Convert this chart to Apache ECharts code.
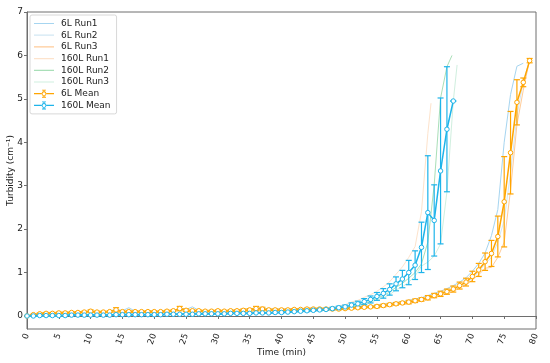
<!DOCTYPE html>
<html><head><meta charset="utf-8">
<script src="https://cdn.jsdelivr.net/npm/echarts@6/dist/echarts.min.js"></script>
<style>html,body{margin:0;padding:0;background:#fff}#c{width:550px;height:363px}</style>
</head><body><div id="c"></div>
<script>
// ---- data (time in minutes, turbidity in cm^-1) ----
const time6 = Array.from({length: 80}, (_, i) => i);
const time160 = Array.from({length: 68}, (_, i) => i);
const mean6L = [
 0.00,0.03,0.05,0.06,0.06,0.07,0.07,0.08,0.08,0.09,
 0.11,0.09,0.09,0.10,0.14,0.10,0.10,0.10,0.10,0.10,
 0.10,0.10,0.11,0.12,0.17,0.13,0.12,0.12,0.11,0.11,
 0.12,0.11,0.12,0.12,0.13,0.14,0.17,0.16,0.14,0.14,
 0.14,0.14,0.15,0.15,0.16,0.16,0.16,0.16,0.16,0.16,
 0.17,0.18,0.19,0.20,0.21,0.22,0.24,0.26,0.28,0.30,
 0.32,0.35,0.38,0.42,0.47,0.51,0.56,0.62,0.70,0.78,
 0.91,1.06,1.25,1.44,1.83,2.63,3.76,4.92,5.38,5.88];
const std6L = [
 0,0.01,0.02,0.02,0.02,0.02,0.02,0.02,0.02,0.02,
 0.03,0.02,0.02,0.02,0.05,0.02,0.02,0.02,0.02,0.02,
 0.02,0.02,0.02,0.02,0.05,0.03,0.02,0.02,0.02,0.02,
 0.02,0.02,0.02,0.02,0.03,0.03,0.05,0.04,0.02,0.02,
 0.02,0.02,0.02,0.02,0.02,0.02,0.02,0.02,0.02,0.02,
 0.02,0.02,0.02,0.02,0.02,0.03,0.03,0.03,0.03,0.03,
 0.04,0.04,0.04,0.05,0.05,0.06,0.06,0.07,0.08,0.09,
 0.12,0.15,0.20,0.30,0.47,1.04,0.95,0.52,0.10,0.05];
const mean160L = [
 0.00,0.00,0.01,0.01,0.01,0.01,0.01,0.02,0.02,0.02,
 0.02,0.02,0.02,0.02,0.03,0.03,0.03,0.03,0.03,0.03,
 0.03,0.03,0.04,0.04,0.04,0.04,0.04,0.05,0.05,0.05,
 0.05,0.05,0.06,0.06,0.06,0.06,0.07,0.07,0.07,0.08,
 0.08,0.09,0.10,0.11,0.12,0.13,0.14,0.15,0.17,0.19,
 0.21,0.25,0.28,0.33,0.38,0.45,0.52,0.61,0.74,0.85,
 1.00,1.17,1.58,2.38,2.20,3.34,4.30,4.95];
const std160L = [
 0,0.005,0.005,0.005,0.005,0.005,0.005,0.01,0.01,0.01,
 0.01,0.01,0.01,0.01,0.01,0.01,0.01,0.01,0.01,0.01,
 0.01,0.01,0.01,0.01,0.01,0.01,0.01,0.01,0.01,0.01,
 0.01,0.01,0.01,0.01,0.01,0.01,0.01,0.01,0.01,0.01,
 0.01,0.01,0.01,0.01,0.02,0.02,0.02,0.02,0.03,0.035,
 0.04,0.05,0.06,0.07,0.08,0.09,0.11,0.13,0.16,0.20,
 0.28,0.33,0.58,1.31,0.82,1.68,1.44,0];
const run6L1 = [
 0,0.04,0.06,0.07,0.07,0.08,0.08,0.09,0.09,0.10,
 0.12,0.10,0.10,0.11,0.16,0.12,0.19,0.11,0.11,0.11,
 0.11,0.11,0.12,0.13,0.18,0.15,0.21,0.13,0.12,0.12,
 0.13,0.12,0.13,0.14,0.15,0.16,0.19,0.18,0.16,0.16,
 0.16,0.16,0.17,0.17,0.18,0.18,0.18,0.18,0.18,0.18,
 0.19,0.20,0.21,0.22,0.23,0.25,0.27,0.29,0.31,0.33,
 0.36,0.39,0.42,0.47,0.52,0.57,0.63,0.70,0.78,0.88,
 1.03,1.21,1.45,1.85,2.45,4.00,5.10,5.75,5.82];
const run6L2 = [
 0,0.02,0.04,0.05,0.05,0.06,0.06,0.07,0.07,0.08,
 0.10,0.08,0.08,0.09,0.13,0.09,0.06,0.09,0.09,0.09,
 0.09,0.09,0.10,0.11,0.16,0.12,0.08,0.11,0.10,0.10,
 0.11,0.10,0.11,0.11,0.12,0.13,0.16,0.15,0.13,0.13,
 0.13,0.13,0.14,0.14,0.15,0.15,0.15,0.15,0.15,0.15,
 0.16,0.17,0.18,0.19,0.20,0.21,0.23,0.25,0.27,0.29,
 0.31,0.34,0.37,0.40,0.45,0.49,0.54,0.60,0.67,0.75,
 0.87,1.02,1.20,1.35,1.70,2.20,3.30,4.60,5.40,5.88];
const run6L3 = [
 0,0.03,0.05,0.06,0.06,0.07,0.07,0.08,0.08,0.09,
 0.11,0.09,0.09,0.10,0.13,0.09,0.05,0.10,0.10,0.10,
 0.10,0.10,0.11,0.12,0.17,0.12,0.07,0.12,0.11,0.11,
 0.12,0.11,0.12,0.11,0.12,0.13,0.16,0.15,0.13,0.13,
 0.13,0.13,0.14,0.14,0.15,0.15,0.15,0.15,0.15,0.15,
 0.16,0.17,0.18,0.19,0.20,0.20,0.22,0.24,0.26,0.28,
 0.29,0.32,0.35,0.39,0.44,0.47,0.51,0.56,0.65,0.71,
 0.83,0.95,1.10,1.12,1.35,1.70,2.90,4.40,5.20,5.90];
const run160L1 = [
 0,0.01,0.01,0.02,0.02,0.02,0.02,0.03,0.03,0.03,
 0.03,0.03,0.03,0.03,0.04,0.04,0.04,0.04,0.04,0.04,
 0.04,0.04,0.05,0.05,0.05,0.05,0.05,0.06,0.06,0.06,
 0.06,0.06,0.07,0.07,0.07,0.07,0.08,0.08,0.08,0.09,
 0.09,0.10,0.11,0.12,0.13,0.15,0.16,0.17,0.20,0.23,
 0.26,0.32,0.36,0.43,0.49,0.57,0.67,0.79,0.96,1.13,
 1.35,1.60,2.40,4.20];
const run160L1EndT = 63.5, run160L1End = 4.9;
const run160L2 = [
 0,0.00,0.01,0.01,0.01,0.01,0.01,0.02,0.02,0.02,
 0.02,0.02,0.02,0.02,0.03,0.03,0.03,0.03,0.03,0.03,
 0.03,0.03,0.04,0.04,0.04,0.04,0.04,0.05,0.05,0.05,
 0.05,0.05,0.06,0.06,0.06,0.06,0.07,0.07,0.07,0.08,
 0.08,0.09,0.10,0.11,0.12,0.13,0.14,0.15,0.16,0.18,
 0.19,0.22,0.25,0.29,0.34,0.41,0.47,0.55,0.66,0.75,
 0.87,1.00,1.20,1.70,3.02,5.02,5.74];
const run160L2EndT = 66.8, run160L2End = 6.0;
const run160L3 = [
 0,0.00,0.00,0.00,0.00,0.00,0.01,0.01,0.01,0.01,
 0.01,0.01,0.01,0.01,0.02,0.02,0.02,0.02,0.02,0.02,
 0.02,0.02,0.03,0.03,0.03,0.03,0.03,0.04,0.04,0.04,
 0.04,0.04,0.05,0.05,0.05,0.05,0.06,0.06,0.06,0.07,
 0.07,0.08,0.09,0.10,0.11,0.12,0.13,0.14,0.15,0.17,
 0.18,0.21,0.23,0.27,0.31,0.37,0.42,0.49,0.60,0.67,
 0.78,0.92,1.15,1.24,1.38,1.66,2.86,4.95];
const run160L3EndT = 67.6, run160L3End = 5.78;
const yTicks = [0,1,2,3,4,5,6,7];

// ---- build ----
function pairs(t, v) { return v.map((y, i) => [t[i], y]); }
function withEnd(t, v, et, ev) { const p = pairs(t, v); p.push([et, ev]); return p; }
function errData(t, m, s) { return m.map((y, i) => [t[i], y - s[i], y + s[i]]); }

const C6 = '#ffa500', C160 = '#1eb4ea';
const lineIcon = 'path://M0,3.4L20,3.4L20,4.6L0,4.6ZM0,0L0.01,0L0.01,8L0,8Z';
const errIcon = 'path://M0,3.4L7.6,3.4L7.6,4.6L0,4.6Z' +
  'M12.4,3.4L20,3.4L20,4.6L12.4,4.6Z' +
  'M9.4,0L10.6,0L10.6,1.8L9.4,1.8Z' +
  'M9.4,6.2L10.6,6.2L10.6,8L9.4,8Z' +
  'M8,0L12,0L12,0.9L8,0.9Z' +
  'M8,7.1L12,7.1L12,8L8,8Z' +
  'M12.4,4A2.4,2.4 0 1,1 7.6,4A2.4,2.4 0 1,1 12.4,4Z' +
  'M11.5,4A1.5,1.5 0 1,0 8.5,4A1.5,1.5 0 1,0 11.5,4Z';
const runStyle = (name, color, data) => ({
  name, type: 'line', data, symbol: 'none', z: 1,
  lineStyle: { color, width: 1 }, itemStyle: { color },
  animation: false
});
function errSeries(name, color, data) {
  return {
    name, type: 'custom', z: 3, animation: false, data,
    renderItem: function (params, api) {
      const x = api.value(0);
      const p1 = api.coord([x, api.value(1)]);
      const p2 = api.coord([x, api.value(2)]);
      const w = 3;
      const st = { stroke: color, lineWidth: 1.2 };
      return { type: 'group', children: [
        { type: 'line', shape: { x1: p1[0], y1: p1[1], x2: p2[0], y2: p2[1] }, style: st },
        { type: 'line', shape: { x1: p1[0]-w, y1: p1[1], x2: p1[0]+w, y2: p1[1] }, style: st },
        { type: 'line', shape: { x1: p2[0]-w, y1: p2[1], x2: p2[0]+w, y2: p2[1] }, style: st }
      ]};
    }
  };
}
const font = 'DejaVu Sans';
const chart = echarts.init(document.getElementById('c'), null, { renderer: 'canvas' });
chart.setOption({
  backgroundColor: '#fff',
  animation: false,
  textStyle: { fontFamily: font },
  grid: { left: 27, right: 14, top: 12, bottom: 34, containLabel: false, outerBoundsMode: 'none',
          show: true, borderColor: '#6e6e6e', borderWidth: 1 },
  legend: {
    orient: 'vertical', left: 30, top: 15,
    itemWidth: 20, itemHeight: 8, itemGap: 2.7,
    padding: [4, 6, 4, 4],
    borderColor: '#d8d8d8', borderWidth: 1, borderRadius: 2, backgroundColor: 'rgba(255,255,255,0.85)',
    textStyle: { fontFamily: font, fontSize: 9, color: '#222', padding: [0,0,0,2] },
    data: [
      { name: '6L Run1', icon: lineIcon }, { name: '6L Run2', icon: lineIcon },
      { name: '6L Run3', icon: lineIcon }, { name: '160L Run1', icon: lineIcon },
      { name: '160L Run2', icon: lineIcon }, { name: '160L Run3', icon: lineIcon },
      { name: '6L Mean', icon: errIcon, itemStyle: { color: C6, borderWidth: 0 } },
      { name: '160L Mean', icon: errIcon, itemStyle: { color: C160, borderWidth: 0 } }]
  },
  xAxis: {
    type: 'value', min: 0, max: 80, interval: 5,
    name: 'Time (min)', nameLocation: 'middle', nameGap: 19, nameMoveOverlap: false,
    nameTextStyle: { fontFamily: font, fontSize: 9, color: '#222' },
    axisLine: { lineStyle: { color: '#6e6e6e' } },
    axisTick: { show: true, length: 3, lineStyle: { color: '#6e6e6e' } },
    axisLabel: { rotate: 70, fontSize: 8.5, color: '#222', margin: 5, fontFamily: font },
    splitLine: { show: false }
  },
  yAxis: {
    type: 'value', min: -0.3, max: 7,
    name: 'Turbidity (cm⁻¹)', nameLocation: 'middle', nameGap: 12, nameMoveOverlap: false,
    nameTextStyle: { fontFamily: font, fontSize: 9, color: '#222' },
    axisLine: { show: true, lineStyle: { color: '#6e6e6e' } },
    axisTick: { show: true, length: 3, customValues: yTicks, lineStyle: { color: '#6e6e6e' } },
    axisLabel: { fontSize: 9, color: '#222', margin: 4, customValues: yTicks, fontFamily: font },
    splitLine: { show: false }
  },
  series: [
    runStyle('6L Run1', '#a6d5f0', pairs(time6, run6L1)),
    runStyle('6L Run2', '#d2e7f4', pairs(time6, run6L2)),
    runStyle('6L Run3', '#ffcc99', pairs(time6, run6L3)),
    runStyle('160L Run1', '#fde3cc', withEnd(time160, run160L1, run160L1EndT, run160L1End)),
    runStyle('160L Run2', '#a9dfb8', withEnd(time160, run160L2, run160L2EndT, run160L2End)),
    runStyle('160L Run3', '#d0efdf', withEnd(time160, run160L3, run160L3EndT, run160L3End)),
    errSeries('6L Mean err', C6, errData(time6, mean6L, std6L)),
    {
      name: '6L Mean', type: 'line', data: pairs(time6, mean6L), z: 4,
      symbol: 'circle', symbolSize: 4.5, showAllSymbol: true,
      lineStyle: { color: C6, width: 1.5 },
      itemStyle: { color: '#fff', borderColor: C6, borderWidth: 1 }
    },
    errSeries('160L Mean err', C160, errData(time160, mean160L, std160L)),
    {
      name: '160L Mean', type: 'line', data: pairs(time160, mean160L), z: 5,
      symbol: 'circle', symbolSize: 4.5, showAllSymbol: true,
      lineStyle: { color: C160, width: 1.5 },
      itemStyle: { color: '#fff', borderColor: C160, borderWidth: 1 }
    }
  ]
});
</script></body></html>
